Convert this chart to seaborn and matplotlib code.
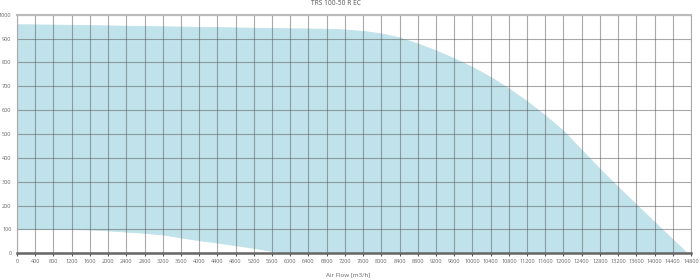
import numpy as np
import pandas as pd
import matplotlib
matplotlib.use("Agg")
import matplotlib.pyplot as plt
import seaborn as sns

# ---- data ----
title = "TRS 100-50 R EC"
x_label = "Air Flow [m3/h]"

upper_flow = [0, 1000, 2000, 3000, 4000, 5000, 6000, 6800, 7200, 7600, 8000,
              8400, 8800, 9200, 9600, 10000, 10400, 10800, 11200, 11600,
              12000, 12400, 12800, 13200, 13600, 14000, 14400, 14720]
upper_pressure = [958, 956, 953, 950, 947, 944, 941, 939, 936, 930, 920,
                  903, 878, 849, 816, 780, 738, 690, 637, 577,
                  513, 433, 354, 278, 204, 131, 58, 0]

lower_flow = [0, 400, 800, 1200, 1600, 2000, 2400, 2800, 3200, 3600, 4000,
              4400, 4800, 5200, 5600, 5750]
lower_pressure = [100, 100, 100, 100, 98, 94, 89, 84, 77, 65, 53,
                  43, 32, 21, 8, 0]

x_ticks = list(range(0, 14801, 400))
y_ticks = list(range(0, 1001, 100))

fill_color = "#c0e2ea"
text_color = "#666666"

sns.set_style("white")
plt.rcParams["font.family"] = ["Open Sans", "DejaVu Sans"]

fig = plt.figure(figsize=(7, 2.8), dpi=100)
ax = fig.add_axes([17 / 700, (280 - 253.3) / 280, (691 - 17) / 700, (253.3 - 14.7) / 280])

up = pd.DataFrame({"flow": upper_flow, "pressure": upper_pressure})
lo = pd.DataFrame({"flow": lower_flow, "pressure": lower_pressure})

poly_x = np.concatenate([up["flow"].to_numpy(), lo["flow"].to_numpy()[::-1]])
poly_y = np.concatenate([up["pressure"].to_numpy(), lo["pressure"].to_numpy()[::-1]])
ax.fill(poly_x, poly_y, color=fill_color, lw=0, zorder=1)
sns.lineplot(data=up, x="flow", y="pressure", ax=ax, color=fill_color, lw=0.6, zorder=1)
sns.lineplot(data=lo, x="flow", y="pressure", ax=ax, color=fill_color, lw=0.6, zorder=1)

ax.set_xlim(0, 14800)
ax.set_ylim(0, 1000)
ax.set_xticks(x_ticks)
ax.set_yticks(y_ticks)
ax.set_xticklabels([str(v) for v in x_ticks])
ax.set_yticklabels([str(v) for v in y_ticks])

ax.grid(True, color="#555555", alpha=0.5, lw=0.8, zorder=3)
ax.set_axisbelow(False)

ax.tick_params(axis="x", length=2, width=0.8, color="#555555", pad=2,
               labelsize=4, labelcolor=text_color, direction="out", bottom=True)
ax.tick_params(axis="y", length=0, pad=4, labelsize=4, labelcolor=text_color, left=True)

for s in ["left", "right"]:
    ax.spines[s].set_color("#aaaaaa")
    ax.spines[s].set_linewidth(0.8)
ax.spines["top"].set_color("#bbbbbb")
ax.spines["top"].set_linewidth(1.5)
ax.spines["bottom"].set_color("#666666")
ax.spines["bottom"].set_linewidth(1.8)
for s in ax.spines.values():
    s.set_zorder(4)

ax.set_xlabel("")
ax.set_ylabel("")
fig.text(336 / 700, 1 - 3.8 / 280, title, ha="center", va="center",
         fontsize=4.8, color="#555555")
fig.text(348 / 700, 1 - 274.8 / 280, x_label, ha="center", va="center",
         fontsize=4.5, color=text_color)

fig.savefig("out.png", dpi=100)
